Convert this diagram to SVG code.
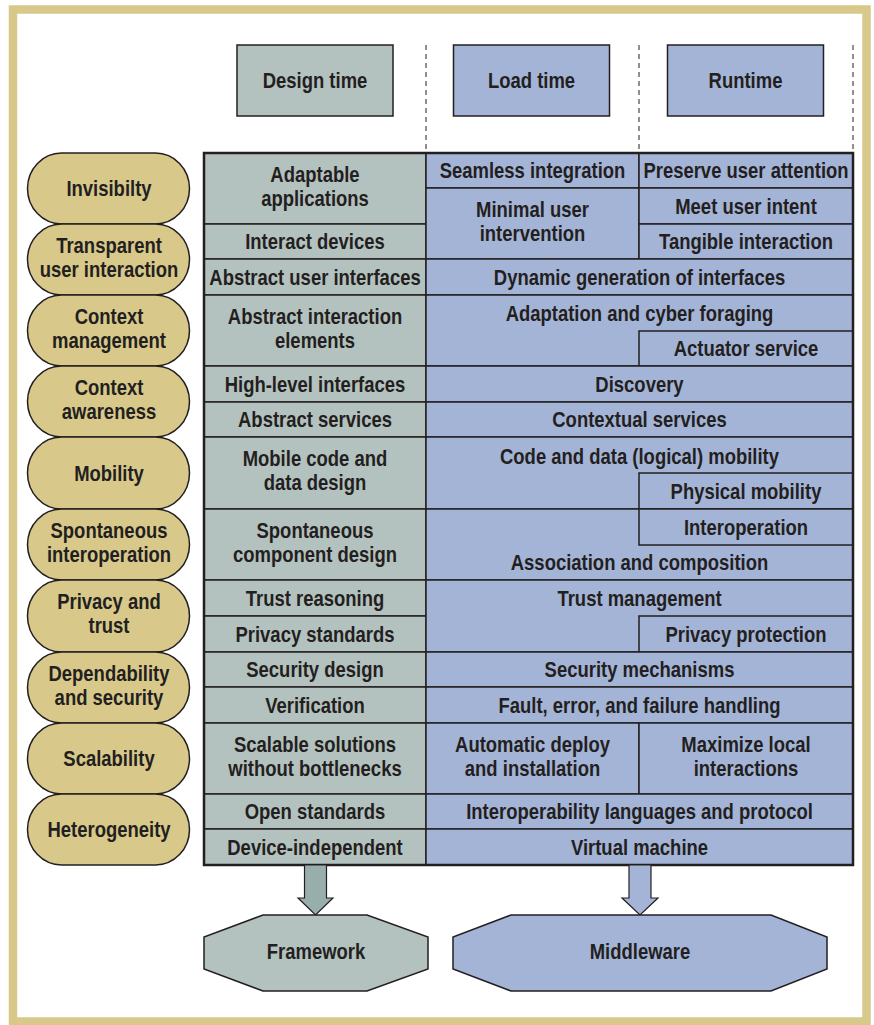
<svg xmlns="http://www.w3.org/2000/svg" width="874" height="1025" viewBox="0 0 874 1025">
<style>
.t{font-family:"Liberation Sans",Arial,sans-serif;font-weight:bold;font-size:22px;fill:#231f20;text-anchor:middle}
.g{fill:#b4c2bf;stroke:#231f20;stroke-width:1.5}
.b{fill:#a3b4d7;stroke:#231f20;stroke-width:1.5}
.p{fill:#d8c98b;stroke:#231f20;stroke-width:1.5}
.d{stroke:#231f20;stroke-width:1;stroke-dasharray:5 4;fill:none}
</style>
<rect x="0" y="0" width="874" height="1025" fill="#ffffff"/>
<rect x="13" y="9.5" width="853.5" height="1012" fill="none" stroke="#d8c98b" stroke-width="8.5"/>

<g id="dashes">
<line class="d" x1="426" y1="45" x2="426" y2="153"/>
<line class="d" x1="639" y1="45" x2="639" y2="153"/>
<line class="d" x1="853" y1="45" x2="853" y2="153"/>
</g>

<g id="hdr-design"><rect class="g" x="237" y="45" width="156" height="71"/><text class="t" transform="translate(315,88) scale(0.84,1)">Design time</text></g>
<g id="hdr-load"><rect class="b" x="453.5" y="45" width="156" height="71"/><text class="t" transform="translate(531.5,88) scale(0.84,1)">Load time</text></g>
<g id="hdr-run"><rect class="b" x="667.5" y="45" width="156" height="71"/><text class="t" transform="translate(745.5,88) scale(0.84,1)">Runtime</text></g>

<g id="pills">
<g id="pill-invisibility"><rect class="p" x="27.5" y="153" width="162" height="71" rx="34" ry="35.5"/><text class="t" transform="translate(109,196) scale(0.84,1)">Invisibilty</text></g>
<g id="pill-transparent"><rect class="p" x="27.5" y="224" width="162" height="71" rx="34" ry="35.5"/><text class="t" transform="translate(109,252.5) scale(0.84,1)"><tspan x="0" y="0">Transparent</tspan><tspan x="0" y="24.5">user interaction</tspan></text></g>
<g id="pill-ctxmgmt"><rect class="p" x="27.5" y="295" width="162" height="71" rx="34" ry="35.5"/><text class="t" transform="translate(109,323.5) scale(0.84,1)"><tspan x="0" y="0">Context</tspan><tspan x="0" y="24.5">management</tspan></text></g>
<g id="pill-ctxaware"><rect class="p" x="27.5" y="366" width="162" height="71" rx="34" ry="35.5"/><text class="t" transform="translate(109,394.5) scale(0.84,1)"><tspan x="0" y="0">Context</tspan><tspan x="0" y="24.5">awareness</tspan></text></g>
<g id="pill-mobility"><rect class="p" x="27.5" y="437" width="162" height="72" rx="34" ry="36"/><text class="t" transform="translate(109,480.5) scale(0.84,1)">Mobility</text></g>
<g id="pill-spontaneous"><rect class="p" x="27.5" y="509" width="162" height="71" rx="34" ry="35.5"/><text class="t" transform="translate(109,537.5) scale(0.84,1)"><tspan x="0" y="0">Spontaneous</tspan><tspan x="0" y="24.5">interoperation</tspan></text></g>
<g id="pill-privacy"><rect class="p" x="27.5" y="580" width="162" height="72" rx="34" ry="36"/><text class="t" transform="translate(109,609) scale(0.84,1)"><tspan x="0" y="0">Privacy and</tspan><tspan x="0" y="24.5">trust</tspan></text></g>
<g id="pill-dependability"><rect class="p" x="27.5" y="652" width="162" height="71" rx="34" ry="35.5"/><text class="t" transform="translate(109,680.5) scale(0.84,1)"><tspan x="0" y="0">Dependability</tspan><tspan x="0" y="24.5">and security</tspan></text></g>
<g id="pill-scalability"><rect class="p" x="27.5" y="723" width="162" height="71" rx="34" ry="35.5"/><text class="t" transform="translate(109,766) scale(0.84,1)">Scalability</text></g>
<g id="pill-heterogeneity"><rect class="p" x="27.5" y="794" width="162" height="71" rx="34" ry="35.5"/><text class="t" transform="translate(109,837) scale(0.84,1)">Heterogeneity</text></g>
</g>

<g id="design-col">
<g id="d1"><rect class="g" x="204" y="153" width="222" height="71"/><text class="t" transform="translate(315,181.5) scale(0.84,1)"><tspan x="0" y="0">Adaptable</tspan><tspan x="0" y="24.5">applications</tspan></text></g>
<g id="d2"><rect class="g" x="204" y="224" width="222" height="35"/><text class="t" transform="translate(315,249) scale(0.84,1)">Interact devices</text></g>
<g id="d3"><rect class="g" x="204" y="259" width="222" height="36"/><text class="t" transform="translate(315,284.5) scale(0.84,1)">Abstract user interfaces</text></g>
<g id="d4"><rect class="g" x="204" y="295" width="222" height="71"/><text class="t" transform="translate(315,323.5) scale(0.84,1)"><tspan x="0" y="0">Abstract interaction</tspan><tspan x="0" y="24.5">elements</tspan></text></g>
<g id="d5"><rect class="g" x="204" y="366" width="222" height="36"/><text class="t" transform="translate(315,391.5) scale(0.84,1)">High-level interfaces</text></g>
<g id="d6"><rect class="g" x="204" y="402" width="222" height="35"/><text class="t" transform="translate(315,427) scale(0.84,1)">Abstract services</text></g>
<g id="d7"><rect class="g" x="204" y="437" width="222" height="72"/><text class="t" transform="translate(315,466) scale(0.84,1)"><tspan x="0" y="0">Mobile code and</tspan><tspan x="0" y="24.5">data design</tspan></text></g>
<g id="d8"><rect class="g" x="204" y="509" width="222" height="71"/><text class="t" transform="translate(315,537.5) scale(0.84,1)"><tspan x="0" y="0">Spontaneous</tspan><tspan x="0" y="24.5">component design</tspan></text></g>
<g id="d9"><rect class="g" x="204" y="580" width="222" height="36"/><text class="t" transform="translate(315,605.5) scale(0.84,1)">Trust reasoning</text></g>
<g id="d10"><rect class="g" x="204" y="616" width="222" height="36"/><text class="t" transform="translate(315,641.5) scale(0.84,1)">Privacy standards</text></g>
<g id="d11"><rect class="g" x="204" y="652" width="222" height="35"/><text class="t" transform="translate(315,677) scale(0.84,1)">Security design</text></g>
<g id="d12"><rect class="g" x="204" y="687" width="222" height="36"/><text class="t" transform="translate(315,712.5) scale(0.84,1)">Verification</text></g>
<g id="d13"><rect class="g" x="204" y="723" width="222" height="71"/><text class="t" transform="translate(315,751.5) scale(0.84,1)"><tspan x="0" y="0">Scalable solutions</tspan><tspan x="0" y="24.5">without bottlenecks</tspan></text></g>
<g id="d14"><rect class="g" x="204" y="794" width="222" height="35"/><text class="t" transform="translate(315,819) scale(0.84,1)">Open standards</text></g>
<g id="d15"><rect class="g" x="204" y="829" width="222" height="36"/><text class="t" transform="translate(315,854.5) scale(0.84,1)">Device-independent</text></g>
</g>

<g id="mw-cols">
<g id="m1"><rect class="b" x="426" y="153" width="213" height="35"/><text class="t" transform="translate(532.5,178) scale(0.84,1)">Seamless integration</text></g>
<g id="r1"><rect class="b" x="639" y="153" width="214" height="35"/><text class="t" transform="translate(746,178) scale(0.84,1)">Preserve user attention</text></g>
<g id="m2"><rect class="b" x="426" y="188" width="213" height="71"/><text class="t" transform="translate(532.5,216.5) scale(0.84,1)"><tspan x="0" y="0">Minimal user</tspan><tspan x="0" y="24.5">intervention</tspan></text></g>
<g id="r2"><rect class="b" x="639" y="188" width="214" height="36"/><text class="t" transform="translate(746,213.5) scale(0.84,1)">Meet user intent</text></g>
<g id="r3"><rect class="b" x="639" y="224" width="214" height="35"/><text class="t" transform="translate(746,249) scale(0.84,1)">Tangible interaction</text></g>
<g id="m3"><rect class="b" x="426" y="259" width="427" height="36"/><text class="t" transform="translate(639.5,284.5) scale(0.84,1)">Dynamic generation of interfaces</text></g>
<g id="m4"><rect class="b" x="426" y="295" width="427" height="71"/><text class="t" transform="translate(639.5,320.5) scale(0.84,1)">Adaptation and cyber foraging</text></g>
<g id="r4"><rect class="b" x="639" y="331" width="214" height="35"/><text class="t" transform="translate(746,356) scale(0.84,1)">Actuator service</text></g>
<g id="m5"><rect class="b" x="426" y="366" width="427" height="36"/><text class="t" transform="translate(639.5,391.5) scale(0.84,1)">Discovery</text></g>
<g id="m6"><rect class="b" x="426" y="402" width="427" height="35"/><text class="t" transform="translate(639.5,427) scale(0.84,1)">Contextual services</text></g>
<g id="m7"><rect class="b" x="426" y="437" width="427" height="72"/><text class="t" transform="translate(639.5,464) scale(0.84,1)">Code and data (logical) mobility</text></g>
<g id="r5"><rect class="b" x="639" y="473" width="214" height="36"/><text class="t" transform="translate(746,499) scale(0.84,1)">Physical mobility</text></g>
<g id="m8"><rect class="b" x="426" y="509" width="427" height="71"/><text class="t" transform="translate(639.5,570) scale(0.84,1)">Association and composition</text></g>
<g id="r6"><rect class="b" x="639" y="509" width="214" height="36"/><text class="t" transform="translate(746,535) scale(0.84,1)">Interoperation</text></g>
<g id="m9"><rect class="b" x="426" y="580" width="427" height="72"/><text class="t" transform="translate(639.5,606) scale(0.84,1)">Trust management</text></g>
<g id="r7"><rect class="b" x="639" y="616" width="214" height="36"/><text class="t" transform="translate(746,641.5) scale(0.84,1)">Privacy protection</text></g>
<g id="m10"><rect class="b" x="426" y="652" width="427" height="35"/><text class="t" transform="translate(639.5,677) scale(0.84,1)">Security mechanisms</text></g>
<g id="m11"><rect class="b" x="426" y="687" width="427" height="36"/><text class="t" transform="translate(639.5,712.5) scale(0.84,1)">Fault, error, and failure handling</text></g>
<g id="m12"><rect class="b" x="426" y="723" width="213" height="71"/><text class="t" transform="translate(532.5,751.5) scale(0.84,1)"><tspan x="0" y="0">Automatic deploy</tspan><tspan x="0" y="24.5">and installation</tspan></text></g>
<g id="r8"><rect class="b" x="639" y="723" width="214" height="71"/><text class="t" transform="translate(746,751.5) scale(0.84,1)"><tspan x="0" y="0">Maximize local</tspan><tspan x="0" y="24.5">interactions</tspan></text></g>
<g id="m13"><rect class="b" x="426" y="794" width="427" height="35"/><text class="t" transform="translate(639.5,819) scale(0.84,1)">Interoperability languages and protocol</text></g>
<g id="m14"><rect class="b" x="426" y="829" width="427" height="36"/><text class="t" transform="translate(639.5,854.5) scale(0.84,1)">Virtual machine</text></g>
</g>
<rect x="204" y="153" width="649" height="712" fill="none" stroke="#231f20" stroke-width="2.5"/>

<g id="connectors">
<polygon points="304.5,865 326.5,865 326.5,898 333,898 315.5,915 298,898 304.5,898" fill="#98aeab" stroke="#231f20" stroke-width="1.2"/>
<polygon points="629,865 651,865 651,898 658,898 640,915 622,898 629,898" fill="#a3b4d7" stroke="#231f20" stroke-width="1.2"/>
</g>

<g id="framework"><polygon class="g" points="263,915 367,915 428,937 428,969 367,991 263,991 204,969 204,937"/><text class="t" transform="translate(316,958.5) scale(0.84,1)">Framework</text></g>
<g id="middleware"><polygon class="b" points="511,915 771,915 827,937 827,969 771,991 511,991 453,969 453,937"/><text class="t" transform="translate(640,958.5) scale(0.84,1)">Middleware</text></g>
</svg>
